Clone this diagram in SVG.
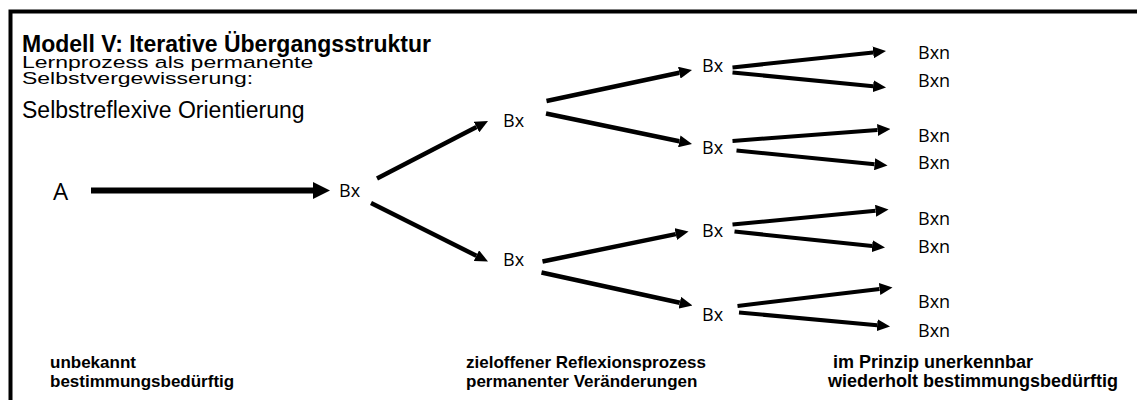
<svg xmlns="http://www.w3.org/2000/svg" width="1137" height="400" viewBox="0 0 1137 400">
  <style>
    .head { font-family: "Liberation Sans", Arial, sans-serif; font-size: 23px; fill: #000; }
    .title { font-weight: bold; }
    .foot { font-family: "Liberation Sans", Arial, sans-serif; font-size: 17px; font-weight: bold; fill: #000; }
    .foot.r { font-size: 18px; }
    .lbl { font-family: "Open Sans", "Noto Sans", sans-serif; font-size: 18px; fill: #000; }
    .big { font-size: 24px; }
    .edge { stroke: #000; stroke-width: 4.5; fill: none; }
    .edge.thin { stroke-width: 4; }
    .edge.main { stroke-width: 6; }
    .frame { stroke: #000; stroke-width: 4; fill: none; }
  </style>
  <defs>
    <marker id="tip" markerUnits="userSpaceOnUse" markerWidth="13" markerHeight="12" refX="0" refY="6" orient="auto">
      <path d="M0,0 L13,6 L0,12 z" fill="#000"/>
    </marker>
    <marker id="tipBig" markerUnits="userSpaceOnUse" markerWidth="17" markerHeight="17" refX="0" refY="8.5" orient="auto">
      <path d="M0,0 L17,8.5 L0,17 z" fill="#000"/>
    </marker>
  </defs>

  <rect width="1137" height="400" fill="#fff"/>

  <!-- frame: top and left rule only -->
  <path class="frame" d="M10.5,11.5 H1137 M10.5,9.5 V400"/>

  <!-- heading; the two middle lines are set tightly, slightly squeezed in height -->
  <g id="heading">
    <text class="head title" x="22" y="52">Modell V: Iterative Übergangsstruktur</text>
    <text class="head" transform="translate(22,67.5) scale(1,0.75)">Lernprozess als permanente</text>
    <text class="head" transform="translate(22,83.5) scale(1,0.75)">Selbstvergewisserung:</text>
    <text class="head" x="22" y="118">Selbstreflexive Orientierung</text>
  </g>

  <!-- connectors -->
  <g id="connectors">
    <path class="edge main" d="M91,190.5 L313,190.5" marker-end="url(#tipBig)"/>
    <path class="edge" d="M377,178.5 L476.5,127" marker-end="url(#tip)"/>
    <path class="edge" d="M371,203 L476.4,255.7" marker-end="url(#tip)"/>
    <path class="edge" d="M546.5,101 L679.3,72.7" marker-end="url(#tip)"/>
    <path class="edge" d="M546,113.5 L679.3,141.3" marker-end="url(#tip)"/>
    <path class="edge" d="M542.5,261.5 L675.8,234.1" marker-end="url(#tip)"/>
    <path class="edge" d="M541.5,272.5 L679.8,302.7" marker-end="url(#tip)"/>
    <path class="edge thin" d="M732.5,67.5 L873.1,52.4" marker-end="url(#tip)"/>
    <path class="edge thin" d="M732.5,72.5 L873.1,86.2" marker-end="url(#tip)"/>
    <path class="edge thin" d="M732.5,141 L877.5,130" marker-end="url(#tip)"/>
    <path class="edge thin" d="M736.5,150.5 L874.6,164.2" marker-end="url(#tip)"/>
    <path class="edge thin" d="M732.5,224.5 L875.6,210.7" marker-end="url(#tip)"/>
    <path class="edge thin" d="M734.5,231.5 L872.1,246.1" marker-end="url(#tip)"/>
    <path class="edge thin" d="M737.5,306 L879.6,289" marker-end="url(#tip)"/>
    <path class="edge thin" d="M739,312.5 L877.1,325.3" marker-end="url(#tip)"/>
  </g>

  <!-- nodes -->
  <g id="node-A"><text class="lbl big" x="53" y="200">A</text></g>
  <g id="node-B1"><text class="lbl" x="339" y="197">Bx</text></g>
  <g id="node-B2a"><text class="lbl" x="503" y="127">Bx</text></g>
  <g id="node-B2b"><text class="lbl" x="503" y="266">Bx</text></g>
  <g id="node-B3a"><text class="lbl" x="702" y="71.5">Bx</text></g>
  <g id="node-B3b"><text class="lbl" x="702" y="154">Bx</text></g>
  <g id="node-B3c"><text class="lbl" x="702" y="237">Bx</text></g>
  <g id="node-B3d"><text class="lbl" x="702" y="320.5">Bx</text></g>
  <g id="node-Bn1"><text class="lbl" x="918" y="59">Bxn</text></g>
  <g id="node-Bn2"><text class="lbl" x="918" y="87">Bxn</text></g>
  <g id="node-Bn3"><text class="lbl" x="918" y="141.5">Bxn</text></g>
  <g id="node-Bn4"><text class="lbl" x="918" y="169">Bxn</text></g>
  <g id="node-Bn5"><text class="lbl" x="918" y="225">Bxn</text></g>
  <g id="node-Bn6"><text class="lbl" x="918" y="252.5">Bxn</text></g>
  <g id="node-Bn7"><text class="lbl" x="918" y="308">Bxn</text></g>
  <g id="node-Bn8"><text class="lbl" x="918" y="336.5">Bxn</text></g>

  <!-- stage captions -->
  <g id="captions">
    <text class="foot" x="50" y="368">unbekannt</text>
    <text class="foot" x="50" y="387">bestimmungsbedürftig</text>
    <text class="foot" x="466" y="368">zieloffener Reflexionsprozess</text>
    <text class="foot" x="466" y="387">permanenter Veränderungen</text>
    <text class="foot r" x="833" y="368">im Prinzip unerkennbar</text>
    <text class="foot r" x="828" y="387">wiederholt bestimmungsbedürftig</text>
  </g>
</svg>
